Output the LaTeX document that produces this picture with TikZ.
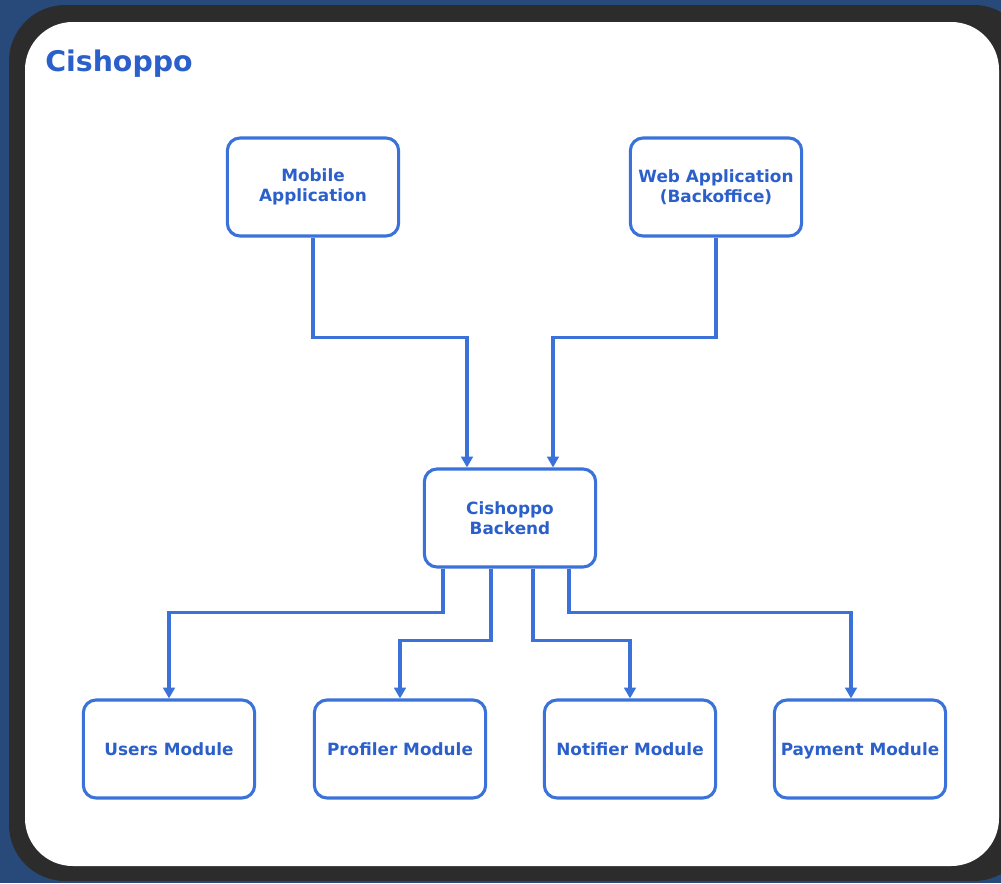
\documentclass[tikz,border=0pt]{standalone}
\usepackage{fontspec}
\setmainfont{DejaVu Sans}
\usepackage{xcolor}
\usepackage{tikz}
\usetikzlibrary{arrows.meta,positioning,calc}
\definecolor{pageblue}{HTML}{274A7A}
\definecolor{framegray}{HTML}{2C2C2C}
\definecolor{linkblue}{HTML}{3A72DA}
\definecolor{textblue}{HTML}{2B60CB}
\tikzset{
  modbox/.style={draw=linkblue, line width=2.2pt, rounded corners=9pt, align=center, fill=white,
    minimum width=4.28cm, minimum height=2.45cm, inner sep=2pt, text=textblue, font=\bfseries\fontsize{12}{14.5}\selectfont},
  flow/.style={-{Triangle[length=2.7mm,width=2.9mm]}, draw=linkblue, line width=2.2pt},
  titletext/.style={text=textblue, font=\bfseries\fontsize{20.2}{23}\selectfont, anchor=base west, inner sep=0pt}
}

\begin{document}
\begin{tikzpicture}[x=0.025cm, y=-0.025cm]
\useasboundingbox (0,0) rectangle (1001,883);
\fill[pageblue] (0,0) rectangle (1001,883);
\fill[framegray, rounded corners=40] (9,5) rectangle (1030,881);
\fill[white, rounded corners=34] (25,22) rectangle (999,866);
\node[titletext] (title) at (45,71) {Cishoppo};
% clients
\node[modbox] (mobile) at (313,187) {Mobile\\Application};
\node[modbox] (web) at (716,187) {Web Application\\(Backoffice)};
% backend
\node[modbox] (backend) at (510,518) {Cishoppo\\Backend};
% modules
\node[modbox] (users) at (169,749) {Users Module};
\node[modbox] (profiler) at (400,749) {Profiler Module};
\node[modbox] (notifier) at (630,749) {Notifier Module};
\node[modbox, text depth=0pt] (payment) at (860,749) {Payment Module};
\draw[flow] (mobile.south) -- ++(0,100) -| ($(backend.north)+(-43,0)$);
\draw[flow] (web.south) -- ++(0,100) -| ($(backend.north)+(43,0)$);
\draw[flow] ($(backend.south)+(-67,0)$) -- ++(0,44) -| (users.north);
\draw[flow] ($(backend.south)+(-19,0)$) -- ++(0,72) -| (profiler.north);
\draw[flow] ($(backend.south)+(23,0)$) -- ++(0,72) -| (notifier.north);
\draw[flow] ($(backend.south)+(59,0)$) -- ++(0,44) -| ($(payment.north)+(-9,0)$);
\end{tikzpicture}
\end{document}
